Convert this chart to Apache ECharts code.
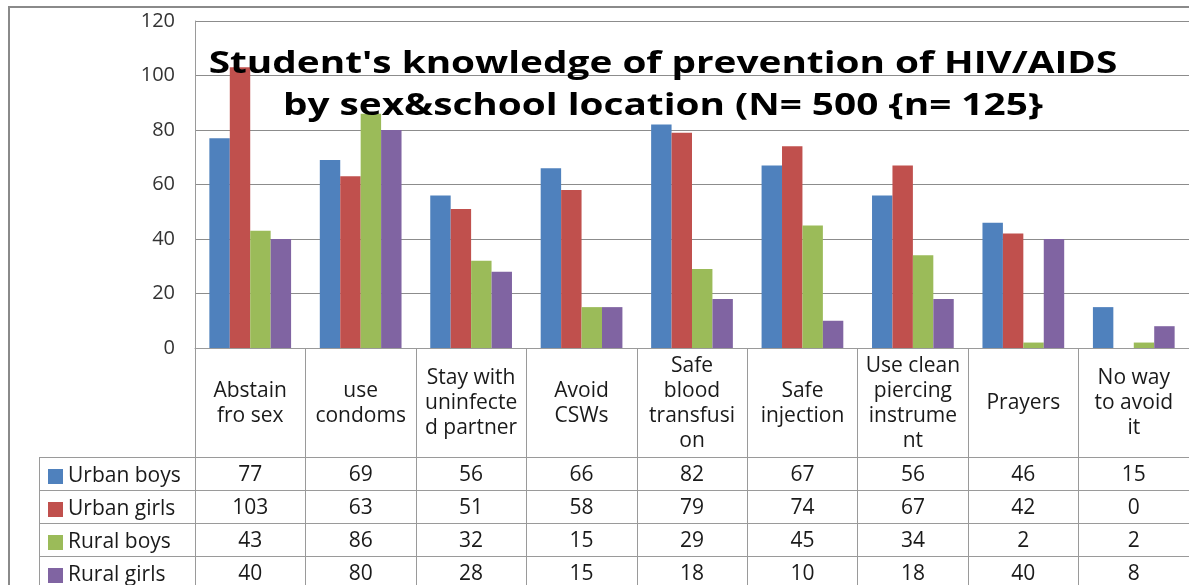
<!DOCTYPE html>
<html><head><meta charset="utf-8">
<script src="https://cdn.jsdelivr.net/npm/echarts@6/dist/echarts.min.js"></script>
<style>html,body{margin:0;padding:0;background:#fff}#c{width:1189px;height:585px}</style>
</head><body><div id="c"></div>
<script>
const categories = ['Abstain\nfro sex','use\ncondoms','Stay with\nuninfecte\nd partner','Avoid\nCSWs','Safe\nblood\ntransfusi\non','Safe\ninjection','Use clean\npiercing\ninstrume\nnt','Prayers','No way\nto avoid\nit'];
const seriesNames = ['Urban boys','Urban girls','Rural boys','Rural girls'];
const urbanBoys  = [77, 69, 56, 66, 82, 67, 56, 46, 15];
const urbanGirls = [103, 63, 51, 58, 79, 74, 67, 42, 0];
const ruralBoys  = [43, 86, 32, 15, 29, 45, 34, 2, 2];
const ruralGirls = [40, 80, 28, 15, 18, 10, 18, 40, 8];
const seriesValues = [urbanBoys, urbanGirls, ruralBoys, ruralGirls];
const colors = ['#4F81BD','#C0504D','#9BBB59','#8064A2'];
const titleLines = ["Student's knowledge of prevention of HIV/AIDS", "by sex&school location (N= 500 {n= 125}"];

const W = 1189, H = 585;
const GRID_LEFT = 195, GRID_TOP = 21, PLOT_BOTTOM = 348, CAT_W = 111;
const CAT_AREA_H = 109, ROW_H = 33, TABLE_LEFT = 39;
const GRID_W = CAT_W * categories.length;
const LINE = '#9a9a9a';
const FONT = 'Open Sans';
const FS = 21;

const chart = echarts.init(document.getElementById('c'), null, {renderer: 'canvas'});

const xAxes = [{
  type: 'category', data: categories, gridIndex: 0, position: 'bottom',
  axisLine: {show: true, lineStyle: {color: LINE, width: 1}},
  axisTick: {show: true, interval: 0, length: CAT_AREA_H + ROW_H * 4 + 10, lineStyle: {color: LINE}},
  axisLabel: {interval: 0, margin: CAT_AREA_H / 2 + 1, verticalAlign: 'middle', align: 'center',
    fontFamily: FONT, fontSize: FS, lineHeight: 25, color: '#1a1a1a'}
}];
seriesValues.forEach((vals, i) => {
  xAxes.push({
    type: 'category', data: vals.map(String), gridIndex: 0, position: 'bottom',
    offset: CAT_AREA_H + ROW_H * i,
    axisLine: {show: true, lineStyle: {color: LINE, width: 1}},
    axisTick: {show: false},
    axisLabel: {interval: 0, margin: ROW_H / 2 + 1.5, verticalAlign: 'middle', align: 'center',
      fontFamily: FONT, fontSize: FS, color: '#1a1a1a'}
  });
});

const graphic = [
  {type: 'rect', z: 0, shape: {x: 9, y: 7, width: W, height: H}, style: {fill: 'none', stroke: '#8a8a8a', lineWidth: 2}},
  {type: 'line', z: 5, shape: {x1: TABLE_LEFT + 0.5, y1: PLOT_BOTTOM + CAT_AREA_H, x2: TABLE_LEFT + 0.5, y2: H + 10}, style: {stroke: LINE, lineWidth: 1}}
];
for (let i = 0; i < 4; i++) {
  const y = PLOT_BOTTOM + CAT_AREA_H + ROW_H * i + 0.5;
  graphic.push({type: 'line', z: 5, shape: {x1: TABLE_LEFT, y1: y, x2: GRID_LEFT, y2: y}, style: {stroke: LINE, lineWidth: 1}});
}
titleLines.forEach((t, i) => {
  graphic.push({type: 'text', z: 100, x: 663, y: 64 + i * 42, scaleX: 1.25,
    style: {text: t, fill: '#000', font: 'bold 31px "Open Sans"', textAlign: 'center', textVerticalAlign: 'middle', align: 'center', verticalAlign: 'middle'}});
});

const legends = seriesNames.map((name, i) => ({
  data: [name], orient: 'vertical', left: TABLE_LEFT + 9, top: PLOT_BOTTOM + CAT_AREA_H + ROW_H * i + 9,
  icon: 'rect', itemWidth: 15, itemHeight: 15, itemStyle: {borderWidth: 0},
  textStyle: {fontFamily: FONT, fontSize: FS, lineHeight: 15, color: '#1a1a1a'}, padding: 0, selectedMode: false
}));

chart.setOption({
  animation: false,
  backgroundColor: '#fff',
  color: colors,
  grid: {left: GRID_LEFT, top: GRID_TOP, width: GRID_W, height: PLOT_BOTTOM - GRID_TOP, containLabel: false},
  legend: legends,
  xAxis: xAxes,
  yAxis: {
    type: 'value', min: 0, max: 120, interval: 20,
    axisLine: {show: true, lineStyle: {color: LINE}},
    axisTick: {show: false},
    splitLine: {lineStyle: {color: '#8c8c8c', width: 1}},
    axisLabel: {margin: 20, fontFamily: FONT, fontSize: 20, color: '#333'}
  },
  series: seriesValues.map((vals, i) => ({
    name: seriesNames[i], type: 'bar', data: vals, xAxisIndex: 0,
    barGap: 0, barCategoryGap: '26%', itemStyle: {color: colors[i]}
  })),
  graphic: graphic
});
</script></body></html>
